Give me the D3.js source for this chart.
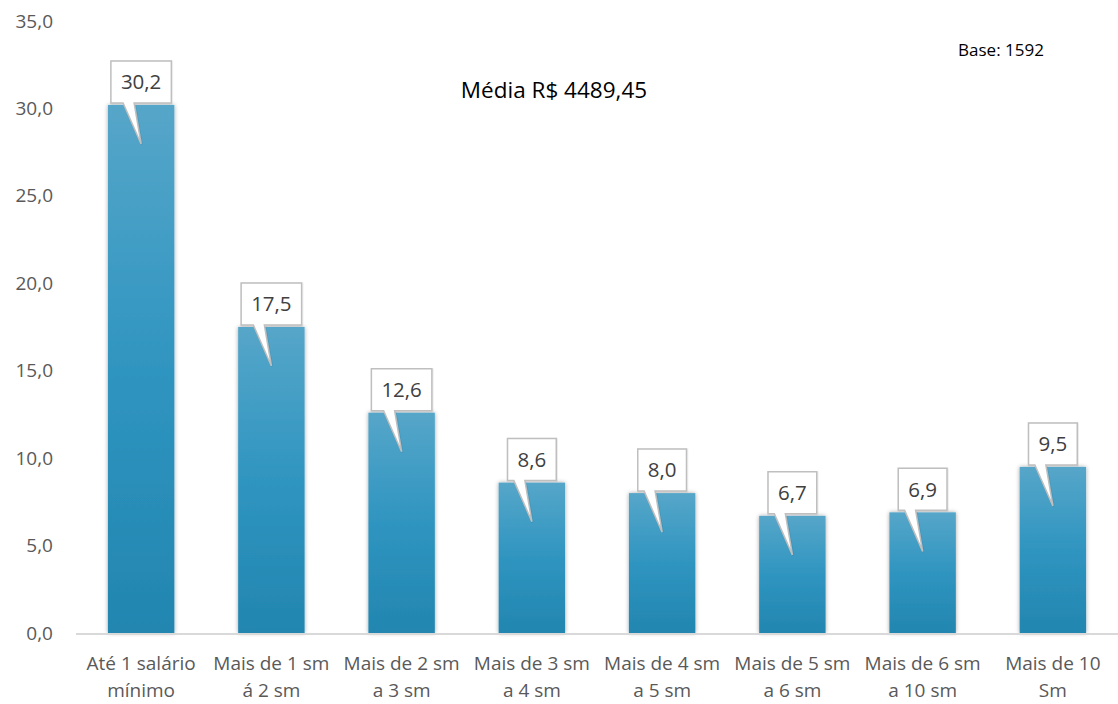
<!DOCTYPE html>
<html>
<head>
<meta charset="utf-8">
<title>Renda familiar</title>
<script src="https://d3js.org/d3.v7.min.js"></script>
<style>
  body { margin: 0; background: #fff; }
  text { font-family: "Open Sans", "Noto Sans", sans-serif; }
</style>
</head>
<body>
<svg class="chart"></svg>
<script>
// categories (two lines each) and values
const categories = [
  ["Até 1 salário", "mínimo"],
  ["Mais de 1 sm", "á 2 sm"],
  ["Mais de 2 sm", "a 3 sm"],
  ["Mais de 3 sm", "a 4 sm"],
  ["Mais de 4 sm", "a 5 sm"],
  ["Mais de 5 sm", "a 6 sm"],
  ["Mais de 6 sm", "a 10 sm"],
  ["Mais de 10", "Sm"]
];
const values = [30.2, 17.5, 12.6, 8.6, 8.0, 6.7, 6.9, 9.5];
const yTicks = [0, 5, 10, 15, 20, 25, 30, 35];
const title = "Média R$ 4489,45";
const baseNote = "Base: 1592";

const W = 1118, H = 704;
const margin = {top: 21, right: 0, bottom: 71, left: 76};
const width = W - margin.left - margin.right;
const height = H - margin.top - margin.bottom;

const fmt = v => v.toFixed(1).replace(".", ",");

const svg = d3.select(".chart").attr("width", W).attr("height", H);

const defs = svg.append("defs");
const grad = defs.append("linearGradient")
  .attr("id", "barGrad").attr("x1", 0).attr("y1", 0).attr("x2", 0).attr("y2", 1);
grad.append("stop").attr("offset", "0%").attr("stop-color", "#56a6c9");
grad.append("stop").attr("offset", "50%").attr("stop-color", "#2f95c0");
grad.append("stop").attr("offset", "100%").attr("stop-color", "#2286b0");

const shadow = defs.append("filter").attr("id", "shadow")
  .attr("x", "-20%").attr("y", "-5%").attr("width", "140%").attr("height", "110%");
shadow.append("feDropShadow").attr("dx", 0).attr("dy", 0)
  .attr("stdDeviation", 2.2).attr("flood-color", "#000").attr("flood-opacity", 0.35);

const calloutShadow = defs.append("filter").attr("id", "cshadow");
calloutShadow.append("feDropShadow").attr("dx", 0.5).attr("dy", 0.5)
  .attr("stdDeviation", 0.6).attr("flood-color", "#000").attr("flood-opacity", 0.15);

const chart = svg.append("g")
  .attr("transform", "translate(" + margin.left + "," + margin.top + ")");

const x = d3.scaleBand()
  .domain(d3.range(categories.length))
  .range([0, width])
  .paddingInner(0.49)
  .paddingOuter(0.245);

const y = d3.scaleLinear().domain([0, 35]).range([height, 0]);

// y axis (labels only)
const yAxis = chart.append("g")
  .call(d3.axisLeft(y).tickValues(yTicks).tickFormat(fmt).tickSize(0).tickPadding(23));
yAxis.select(".domain").remove();
yAxis.selectAll("text")
  .attr("fill", "#595959")
  .style("font-size", "19px")
  .style("font-family", "'Open Sans', sans-serif");

// bars
chart.selectAll(".bar")
  .data(values)
  .enter().append("rect")
  .attr("class", "bar")
  .attr("x", (d, i) => x(i))
  .attr("y", d => y(d))
  .attr("width", x.bandwidth())
  .attr("height", d => height - y(d))
  .attr("fill", "url(#barGrad)")
  .attr("filter", "url(#shadow)");

// bottom axis line
chart.append("line")
  .attr("x1", 0).attr("x2", width)
  .attr("y1", height + 1).attr("y2", height + 1)
  .attr("stroke", "#d9d9d9").attr("stroke-width", 2);

// x labels
const xl = chart.selectAll(".xlab")
  .data(categories)
  .enter().append("text")
  .attr("class", "xlab")
  .attr("text-anchor", "middle")
  .attr("fill", "#595959")
  .attr("font-size", "19px")
  .attr("x", (d, i) => x(i) + x.bandwidth() / 2);
xl.append("tspan").attr("x", (d, i) => x(i) + x.bandwidth() / 2).attr("y", height + 37).text(d => d[0]);
xl.append("tspan").attr("x", (d, i) => x(i) + x.bandwidth() / 2).attr("y", height + 64).text(d => d[1]);

// callouts
const boxH = 42, tipDepth = 39;
const call = chart.selectAll(".callout")
  .data(values)
  .enter().append("g")
  .attr("class", "callout");

call.each(function(d, i) {
  const g = d3.select(this);
  const cx = x(i) + x.bandwidth() / 2;
  const top = y(d);
  const label = fmt(d);
  const t = g.append("text")
    .attr("x", cx).attr("y", top - 2 - boxH / 2)
    .attr("dy", "0.35em")
    .attr("text-anchor", "middle")
    .attr("fill", "#404040")
    .attr("font-size", "20.5px")
    .text(label);
  const tw = t.node().getComputedTextLength();
  const bw = tw + 20;
  const bx0 = cx - bw / 2, bx1 = cx + bw / 2;
  const by0 = top - 2 - boxH, by1 = top - 2;
  const p = d3.path();
  p.moveTo(bx0, by0);
  p.lineTo(bx1, by0);
  p.lineTo(bx1, by1);
  p.lineTo(cx - 7, by1);
  p.lineTo(cx, top + tipDepth);
  p.lineTo(cx - 18, by1);
  p.lineTo(bx0, by1);
  p.closePath();
  g.insert("path", "text")
    .attr("d", p.toString())
    .attr("fill", "#fff")
    .attr("stroke", "#bfbfbf")
    .attr("stroke-width", 1.5)
    .attr("filter", "url(#cshadow)");
});

// title and note
svg.append("text")
  .attr("x", 554).attr("y", 98)
  .attr("text-anchor", "middle")
  .attr("font-size", "22.5px")
  .attr("fill", "#000")
  .text(title);

svg.append("text")
  .attr("x", 1001).attr("y", 56)
  .attr("text-anchor", "middle")
  .attr("font-size", "17px")
  .attr("fill", "#000")
  .text(baseNote);
</script>
</body>
</html>
